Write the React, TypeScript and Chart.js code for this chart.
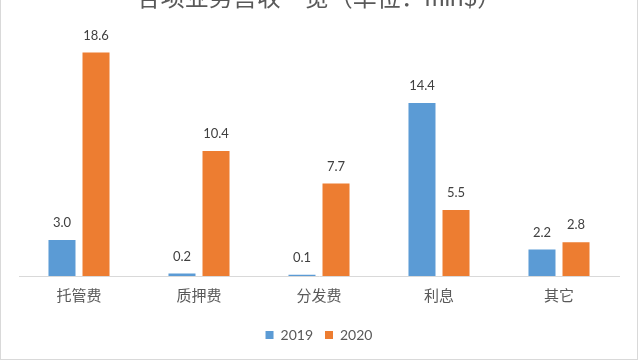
import React, { useEffect, useRef } from "react";
import { Chart, registerables } from "chart.js";

Chart.register(...registerables);

const categories = ["托管费", "质押费", "分发费", "利息", "其它"];
const values2019 = [3.0, 0.2, 0.1, 14.4, 2.2];
const values2020 = [18.6, 10.4, 7.7, 5.5, 2.8];
const seriesNames = ["2019", "2020"];
const titleText = "各项业务营收一览（单位：mln$）";

const FONT = "Lato, 'Noto Sans CJK SC', sans-serif";

const dataLabels = {
  id: "dataLabels",
  afterDatasetsDraw(chart: any) {
    const ctx = chart.ctx;
    ctx.save();
    ctx.font = `13px ${FONT}`;
    ctx.fillStyle = "#404040";
    ctx.textAlign = "center";
    ctx.textBaseline = "alphabetic";
    chart.data.datasets.forEach((ds: any, i: number) => {
      const meta = chart.getDatasetMeta(i);
      meta.data.forEach((el: any, j: number) => {
        const v = ds.data[j] as number;
        ctx.fillText(v.toFixed(1), el.x, el.y - 13);
      });
    });
    ctx.restore();
  },
};

export default function App() {
  const ref = useRef<HTMLCanvasElement>(null);
  useEffect(() => {
    if (!ref.current) return;
    const chart = new Chart(ref.current, {
      type: "bar",
      data: {
        labels: categories,
        datasets: [
          {
            label: seriesNames[0],
            data: values2019,
            backgroundColor: "#5b9bd5",
            barPercentage: 0.794,
            categoryPercentage: 0.567,
          },
          {
            label: seriesNames[1],
            data: values2020,
            backgroundColor: "#ed7d31",
            barPercentage: 0.794,
            categoryPercentage: 0.567,
          },
        ],
      },
      options: {
        animation: false,
        responsive: false,
        maintainAspectRatio: false,
        layout: { padding: { left: 19, right: 21, top: 0, bottom: 10 } },
        plugins: {
          title: {
            display: true,
            text: titleText,
            color: "#595959",
            font: { family: FONT, size: 24, weight: "normal" },
            padding: { top: 4, bottom: 23 },
          },
          legend: {
            position: "bottom",
            labels: {
              boxWidth: 8,
              boxHeight: 8,
              color: "#595959",
              font: { family: FONT, size: 14 },
              padding: 12,
            },
          },
          tooltip: { enabled: false },
        },
        scales: {
          x: {
            grid: { display: false, drawTicks: false },
            border: { display: true, color: "#d9d9d9", width: 1 },
            ticks: {
              color: "#595959",
              font: { family: FONT, size: 15 },
              padding: 11,
            },
          },
          y: {
            display: false,
            min: 0,
            max: 20,
          },
        },
      },
      plugins: [dataLabels],
    });
    return () => chart.destroy();
  }, []);
  return (
    <div style={{ position: "fixed", left: 0, top: 0, width: 640, height: 362, overflow: "hidden", background: "#fff" }}>
      <div
        style={{
          position: "absolute",
          left: 0,
          top: -20,
          width: 638,
          height: 380,
          border: "1px solid #d9d9d9",
          boxSizing: "border-box",
        }}
      />
      <canvas
        ref={ref}
        width={640}
        height={382}
        style={{ position: "absolute", left: 0, top: -20, width: 640, height: 382 }}
      />
    </div>
  );
}
